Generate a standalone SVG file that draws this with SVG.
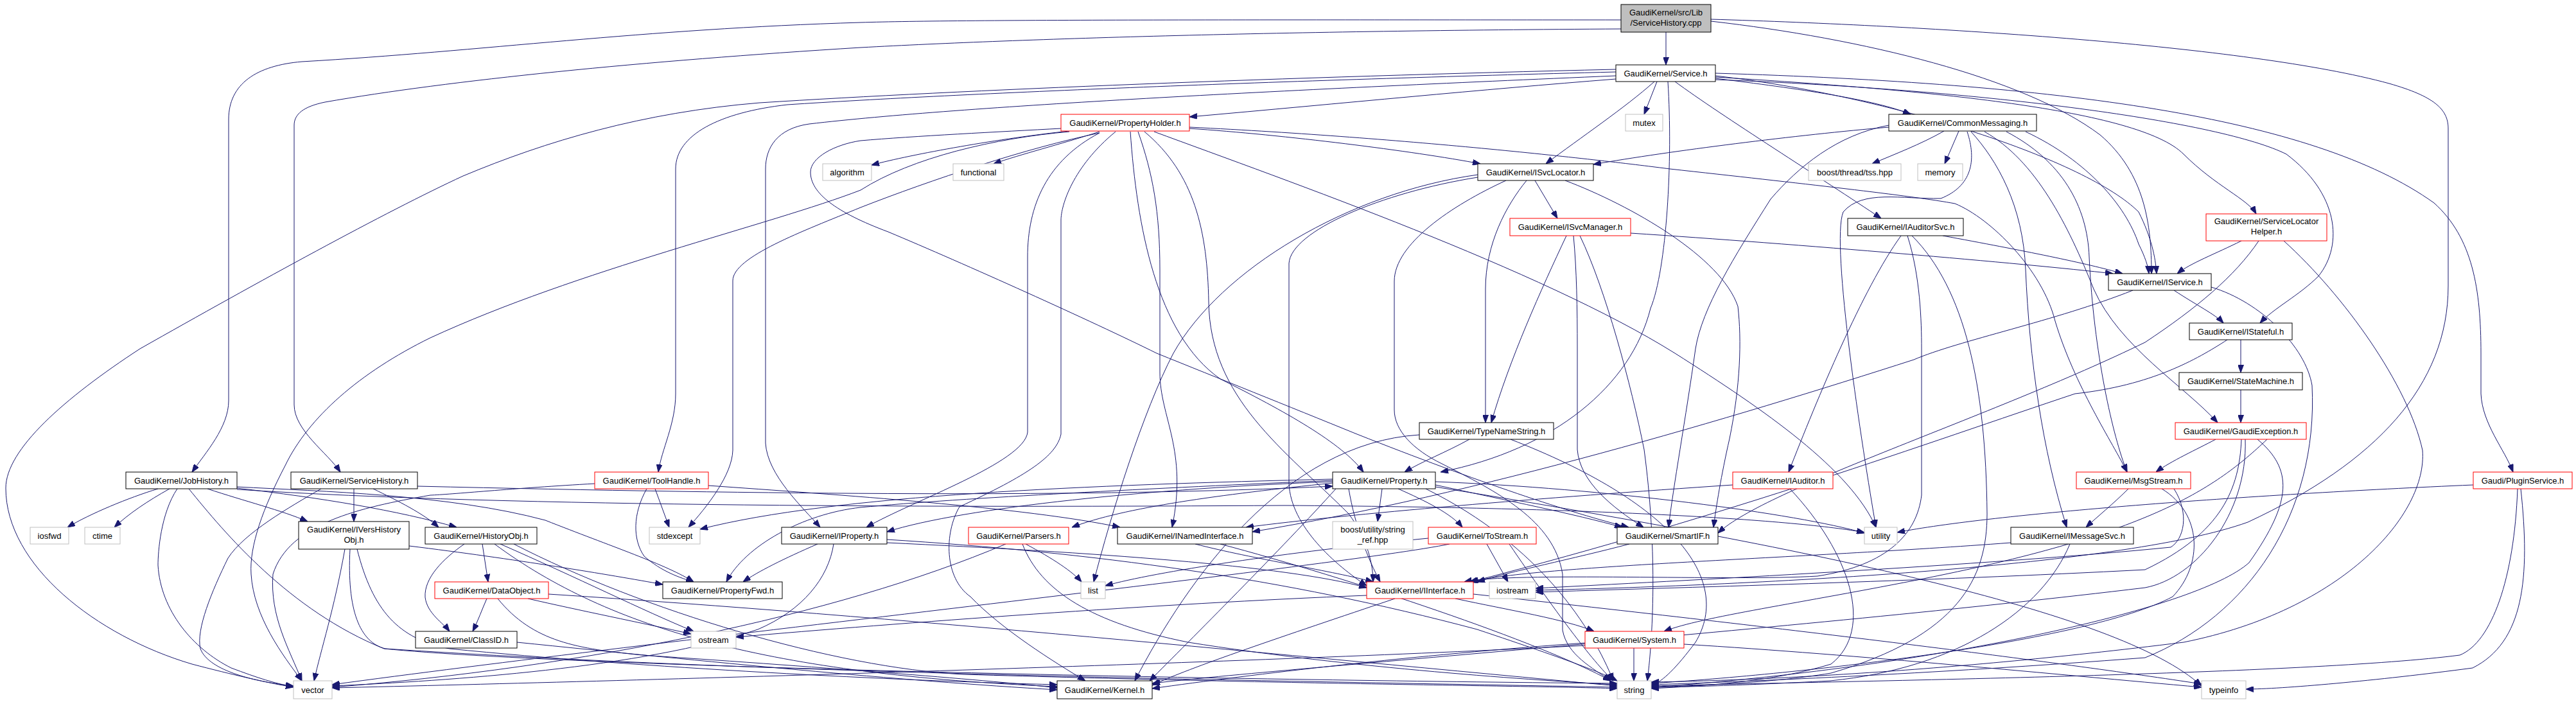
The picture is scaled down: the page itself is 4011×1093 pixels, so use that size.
<svg xmlns="http://www.w3.org/2000/svg" width="4011" height="1093" viewBox="0 0 4011 1093">
<style>
.bg{fill:#ffffff}
.n rect{fill:#ffffff;stroke:#000000;stroke-width:1}
.r rect{fill:#ffffff;stroke:#ff0000;stroke-width:1}
.g rect{fill:#ffffff;stroke:#bfbfbf;stroke-width:1}
.root rect{fill:#bfbfbf;stroke:#000000;stroke-width:1}
text{font-family:"Liberation Sans",Arial,Helvetica,sans-serif;font-size:13px;fill:#000000;text-anchor:middle}
#edges path{fill:none;stroke:#191970;stroke-width:1;marker-end:url(#a)}
</style>
<defs>
<marker id="a" viewBox="0 0 12 9" refX="12" refY="4.5" markerWidth="12" markerHeight="9" markerUnits="userSpaceOnUse" orient="auto">
<path d="M0,0 L12,4.5 L0,9 z" fill="#191970" stroke="#191970"/>
</marker>
</defs>
<rect class="bg" x="0" y="0" width="4011" height="1093"/>
<g id="edges">
<path d="M2594,50 V101"/>
<path d="M2524,31 C2000,31 1500,30 1340,35 C1000,45 750,80 470,96 C400,102 356,130 356,186 V624 C356,665 320,705 299,735"/>
<path d="M2524,45 C2000,48 1600,60 1340,74 C1000,95 700,125 506,159 C472,166 458,178 458,195 V630 C458,670 510,705 530,735"/>
<path d="M2664,33 C2900,60 3150,120 3270,210 C3340,270 3350,350 3350,426"/>
<path d="M2664,30 C3000,40 3500,70 3720,130 C3790,150 3812,170 3812,200 V445 C3812,600 3700,720 3500,813 C3300,885 2700,912 2391,919"/>
<path d="M2580,127 L2560,178"/>
<path d="M2576,127 C2530,168 2460,215 2407,255"/>
<path d="M2516,123 C2300,140 2100,160 1852,182"/>
<path d="M2671,122 C2800,138 2920,155 2975,178"/>
<path d="M2608,127 C2680,180 2840,280 2929,340"/>
<path d="M2671,118 C2950,150 3250,250 3330,330 C3350,370 3356,400 3358,426"/>
<path d="M2671,120 C3000,140 3330,170 3400,240 C3450,290 3500,310 3513,333"/>
<path d="M2671,124 C3100,140 3460,190 3560,240 C3640,300 3650,380 3610,430 C3580,460 3540,480 3519,503"/>
<path d="M2671,114 C3200,130 3600,180 3790,316 C3850,370 3863,450 3863,550 V613 C3865,660 3900,700 3913,735"/>
<path d="M2516,112 C2000,125 1500,145 1226,163 C1120,175 1052,210 1052,263 V613 C1052,660 1030,700 1025,735"/>
<path d="M2516,118 C2000,140 1500,165 1260,193 C1210,200 1192,230 1192,263 V690 C1195,740 1250,790 1277,821"/>
<path d="M2597,127 C2605,250 2595,420 2570,480 C2540,600 2420,700 2243,735"/>
<path d="M2516,108 C2000,120 1500,140 1183,160 C1000,175 850,220 721,274 C600,330 400,440 218,543 C100,620 9,700 9,760 C9,880 150,990 299,1034 C360,1050 420,1064 457,1070"/>
<path d="M1665,204 C1560,215 1420,240 1357,257"/>
<path d="M1712,205 C1650,225 1590,240 1547,255"/>
<path d="M1852,200 C2000,210 2200,235 2305,255"/>
<path d="M1852,198 C2200,215 2500,250 2600,263 C2800,285 2980,305 3044,317 C3100,340 3180,420 3200,500 C3230,600 3290,690 3312,735"/>
<path d="M1797,205 C2000,280 2400,420 2608,550 C2750,640 2880,730 2921,821"/>
<path d="M1712,207 C1630,250 1600,320 1600,400 V673 C1595,720 1420,780 1349,821"/>
<path d="M1737,205 C1670,260 1652,320 1652,343 V676 C1645,710 1600,740 1494,789 C1470,830 1470,900 1511,929 C1560,980 1640,1030 1690,1060"/>
<path d="M1665,205 C1550,215 1420,245 1340,296 C1200,350 900,420 670,526 C560,580 480,650 444,725 C410,790 388,850 391,894 C395,960 440,1020 470,1060"/>
<path d="M1712,207 C1600,230 1450,280 1340,323 C1250,360 1141,400 1141,437 V701 C1140,740 1100,790 1072,821"/>
<path d="M1652,200 C1560,205 1420,212 1340,219 C1300,225 1262,245 1262,268 C1262,300 1300,330 1383,361 C1500,410 1700,500 1801,550 C1900,590 2000,630 2113,676 C2300,750 2450,800 2536,821"/>
<path d="M1760,205 C1770,350 1800,520 1900,590 C2000,640 2090,690 2123,735"/>
<path d="M1772,205 C1795,270 1806,330 1806,420 V580 C1806,650 1850,700 1825,821"/>
<path d="M1782,205 C1860,270 1880,360 1882,470 C1884,620 2000,700 2100,800 C2130,840 2138,880 2138,906"/>
<path d="M2390,281 L2425,340"/>
<path d="M2377,281 C2345,320 2313,380 2313,450 V658"/>
<path d="M2345,281 C2260,320 2171,380 2171,438 V638 C2171,670 2200,700 2245,722 C2330,765 2420,810 2433,894 V981 C2440,1020 2480,1040 2508,1060"/>
<path d="M2301,272 C2100,300 1900,420 1827,550 C1780,640 1730,800 1703,906"/>
<path d="M2437,281 C2540,320 2680,400 2706,477 C2712,530 2710,600 2693,683 C2680,740 2672,790 2668,821"/>
<path d="M2301,276 C2150,300 2010,360 2007,410 V753 C2010,820 2080,880 2128,912"/>
<path d="M2539,363 C2800,380 3150,410 3290,426"/>
<path d="M2439,367 C2400,450 2350,560 2322,658"/>
<path d="M2450,367 C2455,420 2456,480 2456,543 V700 C2460,750 2510,790 2559,821"/>
<path d="M2460,367 C2500,450 2540,600 2560,700 C2580,850 2575,980 2565,1060"/>
<path d="M2288,684 C2250,705 2215,718 2187,735"/>
<path d="M2210,677 C2000,690 1850,900 1767,1060"/>
<path d="M2352,684 C2600,780 2700,900 2640,1000 C2610,1040 2590,1060 2571,1068"/>
<path d="M2152,761 L2145,812"/>
<path d="M2177,761 C2220,780 2260,800 2277,821"/>
<path d="M2235,755 C2350,780 2450,800 2526,821"/>
<path d="M2075,748 C1800,760 1500,775 1340,790 C1250,800 1160,850 1131,906"/>
<path d="M2075,752 C1900,770 1750,790 1669,821"/>
<path d="M2100,761 C2110,820 2130,870 2149,906"/>
<path d="M2080,761 C2000,850 1850,1000 1790,1060"/>
<path d="M2075,746 C1700,755 1300,770 1090,824"/>
<path d="M2220,761 C2400,850 2480,980 2512,1060"/>
<path d="M2235,758 C2800,850 3300,950 3428,1068"/>
<path d="M2235,750 C2500,760 2800,800 2903,830"/>
<path d="M2075,750 C1800,760 1500,790 1381,828"/>
<path d="M2537,847 C2450,870 2350,890 2300,906"/>
<path d="M2266,932 C2350,950 2440,965 2482,983"/>
<path d="M2172,932 C2000,990 1850,1040 1794,1067"/>
<path d="M2128,927 C1800,940 1400,970 1146,992"/>
<path d="M2294,925 C2800,980 3200,1030 3428,1065"/>
<path d="M2544,1009 V1060"/>
<path d="M2622,1003 C2900,1020 3200,1050 3428,1070"/>
<path d="M2468,1001 C2200,1020 1950,1050 1794,1072"/>
<path d="M2468,1005 C2000,1030 1000,1060 517,1071"/>
<path d="M3450,684 C3420,700 3380,718 3357,735"/>
<path d="M3530,684 C3450,760 3350,830 3000,900 C2800,940 2650,960 2591,983"/>
<path d="M3490,684 C3487,760 3460,830 3340,887 C3000,905 2600,915 2391,922"/>
<path d="M3515,684 C3570,730 3570,780 3502,876 C3420,950 3000,1040 2571,1070"/>
<path d="M3496,684 C3500,800 3420,900 3340,915 C2800,980 2000,1040 1794,1064"/>
<path d="M3489,529 V580"/>
<path d="M3468,529 C3420,560 3350,600 3231,613 C3000,690 2700,800 2290,906"/>
<path d="M3489,607 V658"/>
<path d="M3385,452 C3420,475 3450,490 3462,503"/>
<path d="M3321,452 C3200,500 3050,530 2980,560 C2700,650 2300,770 1950,828"/>
<path d="M3443,447 C3520,470 3590,540 3600,600 C3610,800 3500,960 3340,1024 C3000,1050 2700,1062 2571,1066"/>
<path d="M3490,375 C3450,395 3410,410 3390,426"/>
<path d="M3517,375 C3480,430 3420,480 3340,533 C3100,650 2750,760 2675,830"/>
<path d="M3556,375 C3650,460 3750,600 3772,701 C3780,800 3650,950 3400,1000 C3000,1050 2700,1060 2571,1062"/>
<path d="M3027,204 C2990,225 2950,240 2915,255"/>
<path d="M3050,204 L3028,255"/>
<path d="M2941,198 C2800,210 2600,235 2481,256"/>
<path d="M2941,195 C2860,210 2800,260 2757,310 C2700,400 2650,480 2640,543 C2625,650 2605,760 2598,821"/>
<path d="M3063,205 C3078,250 3070,290 3022,309 C2960,310 2900,295 2870,330 C2850,380 2900,700 2921,821"/>
<path d="M3069,205 C3110,250 3150,320 3154,420 C3160,560 3180,700 3218,821"/>
<path d="M3090,205 C3170,250 3220,350 3260,450 C3300,540 3400,600 3453,658"/>
<path d="M3124,205 C3210,250 3250,320 3253,400 C3260,550 3290,680 3312,735"/>
<path d="M3154,205 C3250,250 3310,320 3330,380 C3340,400 3345,415 3346,426"/>
<path d="M3025,367 C3150,390 3250,410 3305,426"/>
<path d="M2960,367 C2900,450 2830,620 2785,735"/>
<path d="M2970,367 C2990,430 2992,500 2992,543 V771 C2985,830 2940,880 2830,897 C2700,905 2350,890 2280,906"/>
<path d="M2977,367 C3060,450 3092,600 3094,800 C3094,900 3050,990 2851,1048 C2750,1065 2620,1068 2571,1070"/>
<path d="M2787,761 C2880,860 2920,980 2851,1034 C2760,1062 2650,1068 2571,1072"/>
<path d="M2698,755 C2400,775 2100,800 1940,821"/>
<path d="M3314,761 C3290,785 3265,805 3248,821"/>
<path d="M3385,761 C3410,800 3400,840 3380,852 C3100,880 2600,905 2391,916"/>
<path d="M3366,761 C3430,800 3430,880 3383,929 C3250,1000 2800,1050 2571,1064"/>
<path d="M3131,845 C2800,870 2400,880 2288,906"/>
<path d="M3223,847 C3180,950 3050,1040 2850,1060 C2700,1068 2600,1070 2571,1070"/>
<path d="M3851,755 C3500,770 3100,800 2954,829"/>
<path d="M3920,761 C3915,900 3880,1000 3830,1020 C3600,1050 2900,1060 2571,1068"/>
<path d="M3925,761 C3940,900 3930,1000 3850,1040 C3700,1060 3550,1073 3497,1073"/>
<path d="M1020,761 L1042,821"/>
<path d="M1007,761 C985,800 985,840 1003,866 C1030,890 1060,900 1080,906"/>
<path d="M926,753 C800,760 700,770 670,771 C560,790 450,815 425,894 C420,960 450,1010 470,1060"/>
<path d="M1103,756 C1300,770 1600,790 1744,821"/>
<path d="M723,847 C690,870 660,900 662,930 C665,955 690,970 700,983"/>
<path d="M751,847 L760,906"/>
<path d="M779,847 C900,900 1000,950 1080,983"/>
<path d="M770,847 C950,980 1200,1050 1646,1069"/>
<path d="M800,847 C1000,950 1300,1040 1500,1050 C2000,1065 2400,1068 2518,1072"/>
<path d="M758,932 C750,950 745,965 736,983"/>
<path d="M822,932 C900,950 1000,970 1076,987"/>
<path d="M775,932 C830,1000 900,1010 1000,1020 C1300,1040 1550,1060 1646,1071"/>
<path d="M854,925 C1400,960 2000,1020 2518,1068"/>
<path d="M805,1000 C1100,1030 1400,1060 1646,1074"/>
<path d="M637,850 C800,870 950,895 1032,910"/>
<path d="M537,855 C520,950 500,1010 489,1060"/>
<path d="M545,855 C540,950 560,1000 600,1010 C1200,1050 2000,1060 2518,1070"/>
<path d="M556,855 C580,950 620,995 700,1010 C1000,1040 1400,1060 1646,1066"/>
<path d="M246,761 C200,775 140,800 105,821"/>
<path d="M264,761 C230,780 200,800 178,821"/>
<path d="M276,761 C250,800 246,860 246,880 C250,950 300,1010 360,1040 C400,1055 430,1065 457,1069"/>
<path d="M323,761 C380,780 440,795 479,812"/>
<path d="M369,760 C500,775 620,795 711,821"/>
<path d="M369,758 C500,765 700,770 849,810 C950,850 1040,880 1080,906"/>
<path d="M369,762 C800,790 1500,790 2000,787 C2500,790 2800,810 2903,829"/>
<path d="M294,761 C350,830 450,950 598,1010 C900,1040 2000,1060 2518,1064"/>
<path d="M551,761 V812"/>
<path d="M581,761 C620,780 660,800 683,821"/>
<path d="M500,761 C450,790 380,830 355,869 C330,920 305,980 312,1010 C325,1045 400,1062 457,1068"/>
<path d="M650,757 C1200,770 1700,775 2075,757"/>
<path d="M1597,847 C1640,870 1670,890 1684,906"/>
<path d="M1592,847 C1620,920 1700,970 1850,1000 C2100,1040 2400,1060 2518,1066"/>
<path d="M1566,847 C1300,960 900,1040 517,1070"/>
<path d="M1273,847 C1220,870 1180,890 1157,906"/>
<path d="M1298,847 C1290,900 1250,950 1180,980 C1000,1040 700,1060 517,1068"/>
<path d="M1381,840 C1700,860 2000,900 2300,980 C2450,1030 2500,1050 2518,1060"/>
<path d="M1381,845 C1700,860 2000,880 2128,915"/>
<path d="M1861,847 C1950,870 2080,890 2138,906"/>
<path d="M1900,847 C2100,900 2400,1000 2508,1060"/>
<path d="M2315,847 L2348,906"/>
<path d="M2224,838 C2000,860 1800,890 1721,912"/>
<path d="M2257,847 C2100,880 1000,1000 517,1066"/>
<path d="M2350,847 C2420,950 2480,1030 2512,1060"/>
</g>
<g id="n_root" class="root"><rect x="2524" y="7" width="140" height="43"/><text x="2594" y="24">GaudiKernel/src/Lib</text><text x="2594" y="40">/ServiceHistory.cpp</text></g>
<g id="n_service" class="n"><rect x="2516" y="101" width="155" height="26"/><text x="2593.5" y="118.5">GaudiKernel/Service.h</text></g>
<g id="n_mutex" class="g"><rect x="2531" y="178" width="58" height="26"/><text x="2560" y="195.5">mutex</text></g>
<g id="n_isvclocator" class="n"><rect x="2301" y="255" width="180" height="26"/><text x="2391" y="272.5">GaudiKernel/ISvcLocator.h</text></g>
<g id="n_isvcmanager" class="r"><rect x="2351" y="340" width="188" height="27"/><text x="2445" y="358">GaudiKernel/ISvcManager.h</text></g>
<g id="n_propertyholder" class="r"><rect x="1652" y="178" width="200" height="26"/><text x="1752" y="195.5">GaudiKernel/PropertyHolder.h</text></g>
<g id="n_algorithm" class="g"><rect x="1281" y="255" width="76" height="26"/><text x="1319" y="272.5">algorithm</text></g>
<g id="n_functional" class="g"><rect x="1484" y="255" width="79" height="26"/><text x="1523.5" y="272.5">functional</text></g>
<g id="n_commonmessaging" class="n"><rect x="2941" y="178" width="230" height="26"/><text x="3056" y="195.5">GaudiKernel/CommonMessaging.h</text></g>
<g id="n_tss" class="g"><rect x="2816" y="255" width="144" height="26"/><text x="2888" y="272.5">boost/thread/tss.hpp</text></g>
<g id="n_memory" class="g"><rect x="2986" y="255" width="70" height="26"/><text x="3021" y="272.5">memory</text></g>
<g id="n_iauditorsvc" class="n"><rect x="2877" y="340" width="180" height="27"/><text x="2967" y="358">GaudiKernel/IAuditorSvc.h</text></g>
<g id="n_iservice" class="n"><rect x="3283" y="426" width="160" height="26"/><text x="3363" y="443.5">GaudiKernel/IService.h</text></g>
<g id="n_servicelocatorhelper" class="r"><rect x="3435" y="333" width="188" height="42"/><text x="3529" y="349">GaudiKernel/ServiceLocator</text><text x="3529" y="365">Helper.h</text></g>
<g id="n_istateful" class="n"><rect x="3409" y="503" width="160" height="26"/><text x="3489" y="520.5">GaudiKernel/IStateful.h</text></g>
<g id="n_statemachine" class="n"><rect x="3393" y="580" width="192" height="27"/><text x="3489" y="598">GaudiKernel/StateMachine.h</text></g>
<g id="n_gaudiexception" class="r"><rect x="3387" y="658" width="204" height="26"/><text x="3489" y="675.5">GaudiKernel/GaudiException.h</text></g>
<g id="n_jobhistory" class="n"><rect x="196" y="735" width="173" height="26"/><text x="282.5" y="752.5">GaudiKernel/JobHistory.h</text></g>
<g id="n_servicehistory" class="n"><rect x="453" y="735" width="197" height="26"/><text x="551.5" y="752.5">GaudiKernel/ServiceHistory.h</text></g>
<g id="n_iosfwd" class="g"><rect x="47" y="821" width="60" height="26"/><text x="77" y="838.5">iosfwd</text></g>
<g id="n_ctime" class="g"><rect x="132" y="821" width="55" height="26"/><text x="159.5" y="838.5">ctime</text></g>
<g id="n_ivershistoryobj" class="n"><rect x="465" y="812" width="172" height="43"/><text x="551" y="829">GaudiKernel/IVersHistory</text><text x="551" y="845">Obj.h</text></g>
<g id="n_historyobj" class="n"><rect x="662" y="821" width="174" height="26"/><text x="749" y="838.5">GaudiKernel/HistoryObj.h</text></g>
<g id="n_classid" class="n"><rect x="647" y="983" width="158" height="26"/><text x="726" y="1000.5">GaudiKernel/ClassID.h</text></g>
<g id="n_vector" class="g"><rect x="457" y="1060" width="60" height="28"/><text x="487" y="1078.5">vector</text></g>
<g id="n_toolhandle" class="r"><rect x="926" y="735" width="177" height="26"/><text x="1014.5" y="752.5">GaudiKernel/ToolHandle.h</text></g>
<g id="n_stdexcept" class="g"><rect x="1011" y="821" width="79" height="26"/><text x="1050.5" y="838.5">stdexcept</text></g>
<g id="n_iproperty" class="n"><rect x="1217" y="821" width="164" height="26"/><text x="1299" y="838.5">GaudiKernel/IProperty.h</text></g>
<g id="n_dataobject" class="r"><rect x="677" y="906" width="177" height="26"/><text x="765.5" y="923.5">GaudiKernel/DataObject.h</text></g>
<g id="n_propertyfwd" class="n"><rect x="1032" y="906" width="186" height="26"/><text x="1125" y="923.5">GaudiKernel/PropertyFwd.h</text></g>
<g id="n_ostream" class="g"><rect x="1076" y="983" width="70" height="26"/><text x="1111" y="1000.5">ostream</text></g>
<g id="n_parsers" class="r"><rect x="1508" y="821" width="156" height="26"/><text x="1586" y="838.5">GaudiKernel/Parsers.h</text></g>
<g id="n_inamedinterface" class="n"><rect x="1740" y="821" width="210" height="26"/><text x="1845" y="838.5">GaudiKernel/INamedInterface.h</text></g>
<g id="n_list" class="g"><rect x="1683" y="906" width="38" height="26"/><text x="1702" y="923.5">list</text></g>
<g id="n_kernel" class="n"><rect x="1646" y="1060" width="148" height="28"/><text x="1720" y="1078.5">GaudiKernel/Kernel.h</text></g>
<g id="n_typenamestring" class="n"><rect x="2210" y="658" width="209" height="26"/><text x="2314.5" y="675.5">GaudiKernel/TypeNameString.h</text></g>
<g id="n_property" class="n"><rect x="2075" y="735" width="160" height="26"/><text x="2155" y="752.5">GaudiKernel/Property.h</text></g>
<g id="n_string_ref" class="g"><rect x="2075" y="812" width="125" height="43"/><text x="2137.5" y="829">boost/utility/string</text><text x="2137.5" y="845">_ref.hpp</text></g>
<g id="n_tostream" class="r"><rect x="2224" y="821" width="168" height="26"/><text x="2308" y="838.5">GaudiKernel/ToStream.h</text></g>
<g id="n_smartif" class="n"><rect x="2518" y="821" width="157" height="26"/><text x="2596.5" y="838.5">GaudiKernel/SmartIF.h</text></g>
<g id="n_iinterface" class="r"><rect x="2128" y="906" width="166" height="26"/><text x="2211" y="923.5">GaudiKernel/IInterface.h</text></g>
<g id="n_iostream" class="g"><rect x="2319" y="906" width="72" height="26"/><text x="2355" y="923.5">iostream</text></g>
<g id="n_system" class="r"><rect x="2468" y="983" width="154" height="26"/><text x="2545" y="1000.5">GaudiKernel/System.h</text></g>
<g id="n_string" class="g"><rect x="2518" y="1060" width="53" height="28"/><text x="2544.5" y="1078.5">string</text></g>
<g id="n_iauditor" class="r"><rect x="2698" y="735" width="156" height="26"/><text x="2776" y="752.5">GaudiKernel/IAuditor.h</text></g>
<g id="n_utility" class="g"><rect x="2903" y="821" width="51" height="26"/><text x="2928.5" y="838.5">utility</text></g>
<g id="n_msgstream" class="r"><rect x="3233" y="735" width="178" height="26"/><text x="3322" y="752.5">GaudiKernel/MsgStream.h</text></g>
<g id="n_imessagesvc" class="n"><rect x="3131" y="821" width="191" height="26"/><text x="3226.5" y="838.5">GaudiKernel/IMessageSvc.h</text></g>
<g id="n_pluginservice" class="r"><rect x="3851" y="735" width="154" height="26"/><text x="3928" y="752.5">Gaudi/PluginService.h</text></g>
<g id="n_typeinfo" class="g"><rect x="3428" y="1060" width="69" height="28"/><text x="3462.5" y="1078.5">typeinfo</text></g>
</svg>
